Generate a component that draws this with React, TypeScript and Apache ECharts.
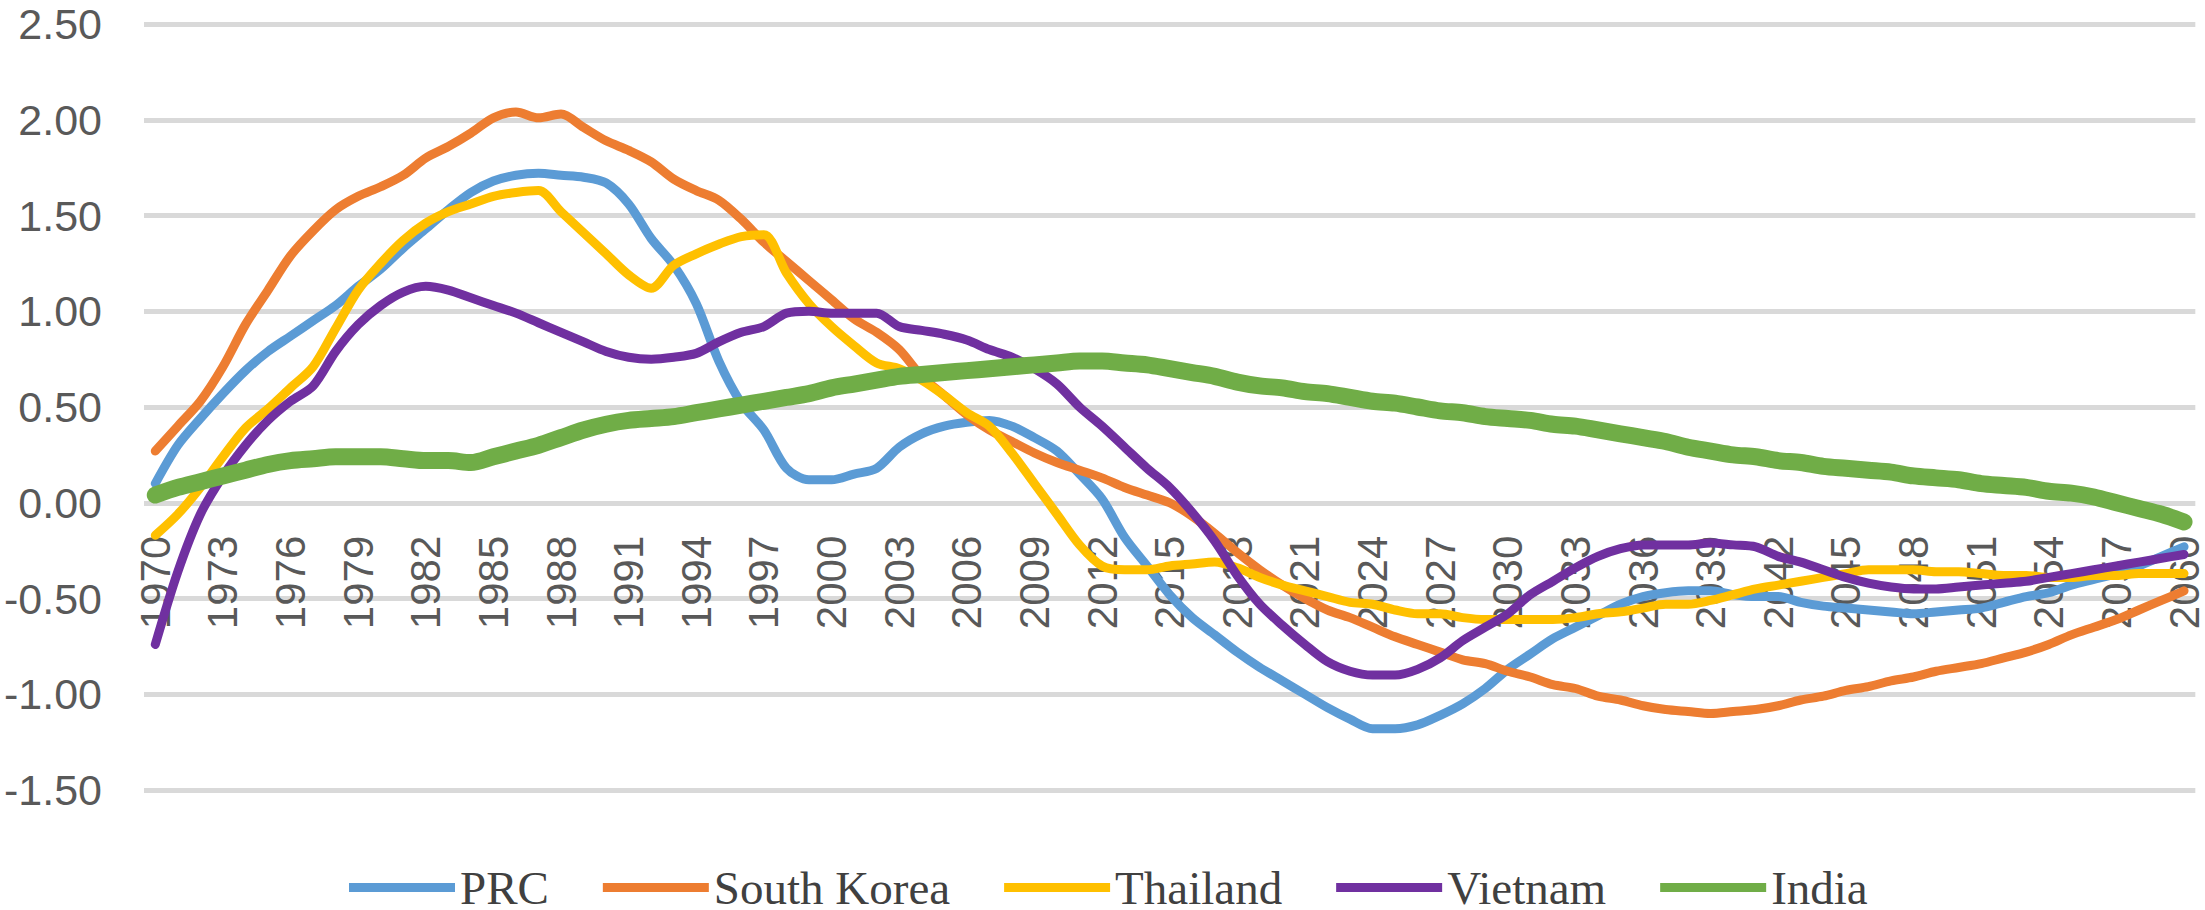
import React, { useEffect, useRef } from "react";
import * as echarts from "echarts";

const years: string[] = [];
for (let y = 1970; y <= 2060; y++) years.push(String(y));

const seriesNames = ["PRC", "South Korea", "Thailand", "Vietnam", "India"];

const prc = [
  0.10, 0.30, 0.44, 0.57, 0.69, 0.79, 0.87, 0.95, 1.03, 1.13,
  1.22, 1.33, 1.43, 1.53, 1.62, 1.68, 1.71, 1.72, 1.71, 1.70,
  1.67, 1.56, 1.38, 1.24, 1.04, 0.74, 0.52, 0.38, 0.18, 0.12,
  0.12, 0.15, 0.18, 0.29, 0.36, 0.40, 0.42, 0.43, 0.40, 0.34,
  0.27, 0.15, 0.02, -0.18, -0.33, -0.48, -0.60, -0.69, -0.78, -0.86,
  -0.93, -1.00, -1.07, -1.13, -1.18, -1.18, -1.16, -1.11, -1.05, -0.97,
  -0.87, -0.79, -0.71, -0.65, -0.59, -0.53, -0.49, -0.47, -0.46, -0.46,
  -0.48, -0.49, -0.49, -0.52, -0.54, -0.55, -0.56, -0.57, -0.58, -0.57,
  -0.56, -0.55, -0.52, -0.49, -0.47, -0.43, -0.40, -0.37, -0.33, -0.28,
  -0.23,
];

const southKorea = [
  0.27, 0.40, 0.53, 0.71, 0.93, 1.11, 1.29, 1.42, 1.53, 1.60,
  1.65, 1.71, 1.80, 1.86, 1.93, 2.01, 2.04, 2.01, 2.03, 1.96,
  1.89, 1.84, 1.78, 1.69, 1.63, 1.58, 1.48, 1.36, 1.26, 1.16,
  1.06, 0.96, 0.89, 0.80, 0.66, 0.56, 0.46, 0.38, 0.32, 0.26,
  0.21, 0.17, 0.13, 0.08, 0.04, 0.00, -0.07, -0.16, -0.26, -0.35,
  -0.43, -0.50, -0.56, -0.60, -0.65, -0.70, -0.74, -0.78, -0.82, -0.84,
  -0.88, -0.91, -0.95, -0.97, -1.01, -1.03, -1.06, -1.08, -1.09, -1.10,
  -1.09, -1.08, -1.06, -1.03, -1.01, -0.98, -0.96, -0.93, -0.91, -0.88,
  -0.86, -0.84, -0.81, -0.78, -0.74, -0.69, -0.65, -0.61, -0.56, -0.51,
  -0.46,
];

const thailand = [
  -0.17, -0.06, 0.08, 0.24, 0.39, 0.49, 0.60, 0.71, 0.91, 1.11,
  1.25, 1.37, 1.46, 1.52, 1.56, 1.60, 1.62, 1.63, 1.52, 1.41,
  1.30, 1.19, 1.12, 1.24, 1.30, 1.35, 1.39, 1.40, 1.20, 1.04,
  0.92, 0.82, 0.73, 0.70, 0.64, 0.56, 0.47, 0.40, 0.26, 0.10,
  -0.06, -0.22, -0.33, -0.35, -0.35, -0.33, -0.32, -0.31, -0.34, -0.39,
  -0.43, -0.46, -0.49, -0.52, -0.53, -0.56, -0.58, -0.58, -0.60, -0.61,
  -0.61, -0.61, -0.61, -0.60, -0.58, -0.57, -0.55, -0.53, -0.53, -0.51,
  -0.48, -0.45, -0.43, -0.41, -0.39, -0.37, -0.35, -0.35, -0.35, -0.36,
  -0.36, -0.37, -0.38, -0.38, -0.39, -0.39, -0.38, -0.38, -0.37, -0.37,
  -0.37,
];

const vietnam = [
  -0.74, -0.36, -0.06, 0.14, 0.30, 0.43, 0.53, 0.61, 0.79, 0.93,
  1.03, 1.10, 1.13, 1.11, 1.07, 1.03, 0.99, 0.94, 0.89, 0.84,
  0.79, 0.76, 0.75, 0.76, 0.78, 0.84, 0.89, 0.92, 0.99, 1.00,
  0.99, 0.99, 0.99, 0.92, 0.90, 0.88, 0.85, 0.80, 0.76, 0.70,
  0.62, 0.50, 0.40, 0.29, 0.18, 0.08, -0.05, -0.20, -0.38, -0.53,
  -0.64, -0.74, -0.83, -0.88, -0.90, -0.90, -0.87, -0.81, -0.72, -0.65,
  -0.58, -0.48, -0.41, -0.34, -0.28, -0.24, -0.22, -0.22, -0.22, -0.21,
  -0.22, -0.23, -0.28, -0.31, -0.35, -0.39, -0.42, -0.44, -0.45, -0.45,
  -0.44, -0.43, -0.42, -0.41, -0.39, -0.37, -0.35, -0.33, -0.31, -0.29,
  -0.27,
];

const india = [
  0.04, 0.08, 0.11, 0.14, 0.17, 0.20, 0.22, 0.23, 0.24, 0.24,
  0.24, 0.23, 0.22, 0.22, 0.21, 0.24, 0.27, 0.30, 0.34, 0.38,
  0.41, 0.43, 0.44, 0.45, 0.47, 0.49, 0.51, 0.53, 0.55, 0.57,
  0.60, 0.62, 0.64, 0.66, 0.67, 0.68, 0.69, 0.70, 0.71, 0.72,
  0.73, 0.74, 0.74, 0.73, 0.72, 0.70, 0.68, 0.66, 0.63, 0.61,
  0.60, 0.58, 0.57, 0.55, 0.53, 0.52, 0.50, 0.48, 0.47, 0.45,
  0.44, 0.43, 0.41, 0.40, 0.38, 0.36, 0.34, 0.32, 0.29, 0.27,
  0.25, 0.24, 0.22, 0.21, 0.19, 0.18, 0.17, 0.16, 0.14, 0.13,
  0.12, 0.10, 0.09, 0.08, 0.06, 0.05, 0.03, 0.00, -0.03, -0.06,
  -0.10,
];

const seriesData = [prc, southKorea, thailand, vietnam, india];
const colors = ["#5B9BD5", "#ED7D31", "#FFC000", "#7030A0", "#70AD47"];
const widths = [9, 9, 9, 9, 17];

const Y_MIN = -1.5;
const Y_MAX = 2.5;
const GRID_TOP = 24;
const GRID_BOTTOM = 120;
const CHART_H = 910;

export default function App() {
  const ref = useRef<HTMLDivElement>(null);
  useEffect(() => {
    if (!ref.current) return;
    const chart = echarts.init(ref.current, null, { renderer: "svg" });
    const plotH = CHART_H - GRID_TOP - GRID_BOTTOM;
    const zeroFromBottom = ((0 - Y_MIN) / (Y_MAX - Y_MIN)) * plotH;
    chart.setOption({
      animation: false,
      backgroundColor: "#ffffff",
      grid: { left: 144, right: 3, top: GRID_TOP, bottom: GRID_BOTTOM, containLabel: false },
      legend: {
        data: seriesNames,
        left: 349,
        top: 864,
        padding: 0,
        itemWidth: 106,
        itemHeight: 9,
        itemGap: 54,
        icon: "rect",
        textStyle: {
          fontFamily: "Liberation Serif",
          fontSize: 47,
          lineHeight: 44,
          color: "#404040",
        },
      },
      xAxis: {
        type: "category",
        data: years,
        boundaryGap: true,
        position: "bottom",
        offset: -zeroFromBottom,
        axisLine: { show: false, onZero: false },
        axisTick: { show: false },
        axisLabel: {
          interval: 2,
          rotate: 90,
          margin: 33,
          fontFamily: "Liberation Sans",
          fontSize: 42,
          color: "#595959",
        },
        splitLine: { show: false },
      },
      yAxis: {
        type: "value",
        min: Y_MIN,
        max: Y_MAX,
        interval: 0.5,
        axisLine: { show: false },
        axisTick: { show: false },
        axisLabel: {
          margin: 42,
          fontFamily: "Liberation Sans",
          fontSize: 43,
          color: "#595959",
          formatter: (v: number) => v.toFixed(2),
        },
        splitLine: { show: true, lineStyle: { color: "#d9d9d9", width: 5 } },
      },
      series: seriesNames.map((name, i) => ({
        name,
        type: "line",
        data: seriesData[i],
        smooth: 0.3,
        showSymbol: false,
        symbol: "none",
        color: colors[i],
        lineStyle: { color: colors[i], width: widths[i], cap: "round", join: "round" },
      })),
    });
    return () => chart.dispose();
  }, []);
  return (
    <div
      ref={ref}
      style={{ position: "fixed", left: 0, top: 0, width: 2205, height: 910 }}
    />
  );
}
